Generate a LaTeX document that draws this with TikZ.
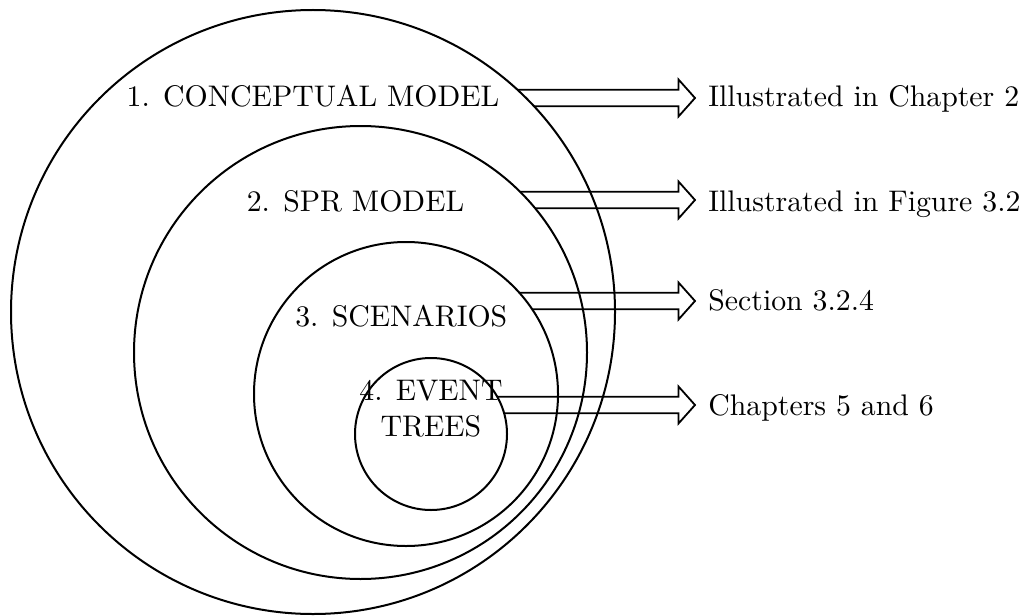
\documentclass[tikz,border=0pt]{standalone}
\usepackage{fontspec}
\setmainfont{lmroman10-regular.otf}
\usetikzlibrary{calc}
\newcommand{\hollowarrow}[6]{%
  \pgfmathsetmacro{\hayu}{#5-8.3}%
  \pgfmathsetmacro{\hayl}{#5+8.3}%
  \pgfmathsetmacro{\haxu}{#2+sqrt(#4-(#3-\hayu))*sqrt(#4+(#3-\hayu))}%
  \pgfmathsetmacro{\haxl}{#2+sqrt(#4-(#3-\hayl))*sqrt(#4+(#3-\hayl))}%
  \pgfmathsetmacro{\haxb}{#6-16.5}%
  \pgfmathsetmacro{\hayt}{#5-18.5}%
  \pgfmathsetmacro{\hayb}{#5+18.5}%
  \coordinate (s#1u) at (\haxu,\hayu);
  \coordinate (s#1l) at (\haxl,\hayl);
  \coordinate (p#1) at (#6,#5);
  \draw[arr] (s#1u) -- (\haxb,\hayu) -- (\haxb,\hayt) -- (p#1) -- (\haxb,\hayb) -- (\haxb,\hayl) -- (s#1l);
}
\begin{document}
\begin{tikzpicture}[x=0.5pt,y=-0.5pt,
  ring/.style={draw=black,line width=1pt,circle,inner sep=0pt},
  arr/.style={draw=black,line width=0.9pt},
  lab/.style={inner sep=0pt,anchor=base,font=\fontsize{14.9}{17.9}\selectfont},
  note/.style={inner sep=0pt,anchor=base west,font=\fontsize{14.9}{17.9}\selectfont}]
\useasboundingbox (0,0) rectangle (1032,615);
\node[ring,minimum size=302pt] (c1) at (313,312) {};
\node[ring,minimum size=226.5pt] (c2) at (360.5,352.5) {};
\node[ring,minimum size=152pt] (c3) at (406,394) {};
\node[ring,minimum size=76pt] (c4) at (431,434) {};
\node[lab] (l1) at (313,106) {1. CONCEPTUAL MODEL};
\node[lab] (l2) at (355.5,211.7) {2. SPR MODEL};
\node[lab] (l3) at (401.3,326) {3. SCENARIOS};
\node[lab,align=center] (l4) at (431,436) {4. EVENT\\TREES};
\node[note] (r1) at (708,106.7) {Illustrated in Chapter 2};
\node[note] (r2) at (708,211.7) {Illustrated in Figure 3.2};
\node[note] (r3) at (708,310) {Section 3.2.4};
\node[note] (r4) at (708,415) {Chapters 5 and 6};
\hollowarrow{1}{313}{312}{302}{98}{695}
\hollowarrow{2}{360.5}{352.5}{226.5}{200}{695}
\hollowarrow{3}{406}{394}{152}{301}{695}
\hollowarrow{4}{431}{434}{76}{405}{695}
\end{tikzpicture}
\end{document}
